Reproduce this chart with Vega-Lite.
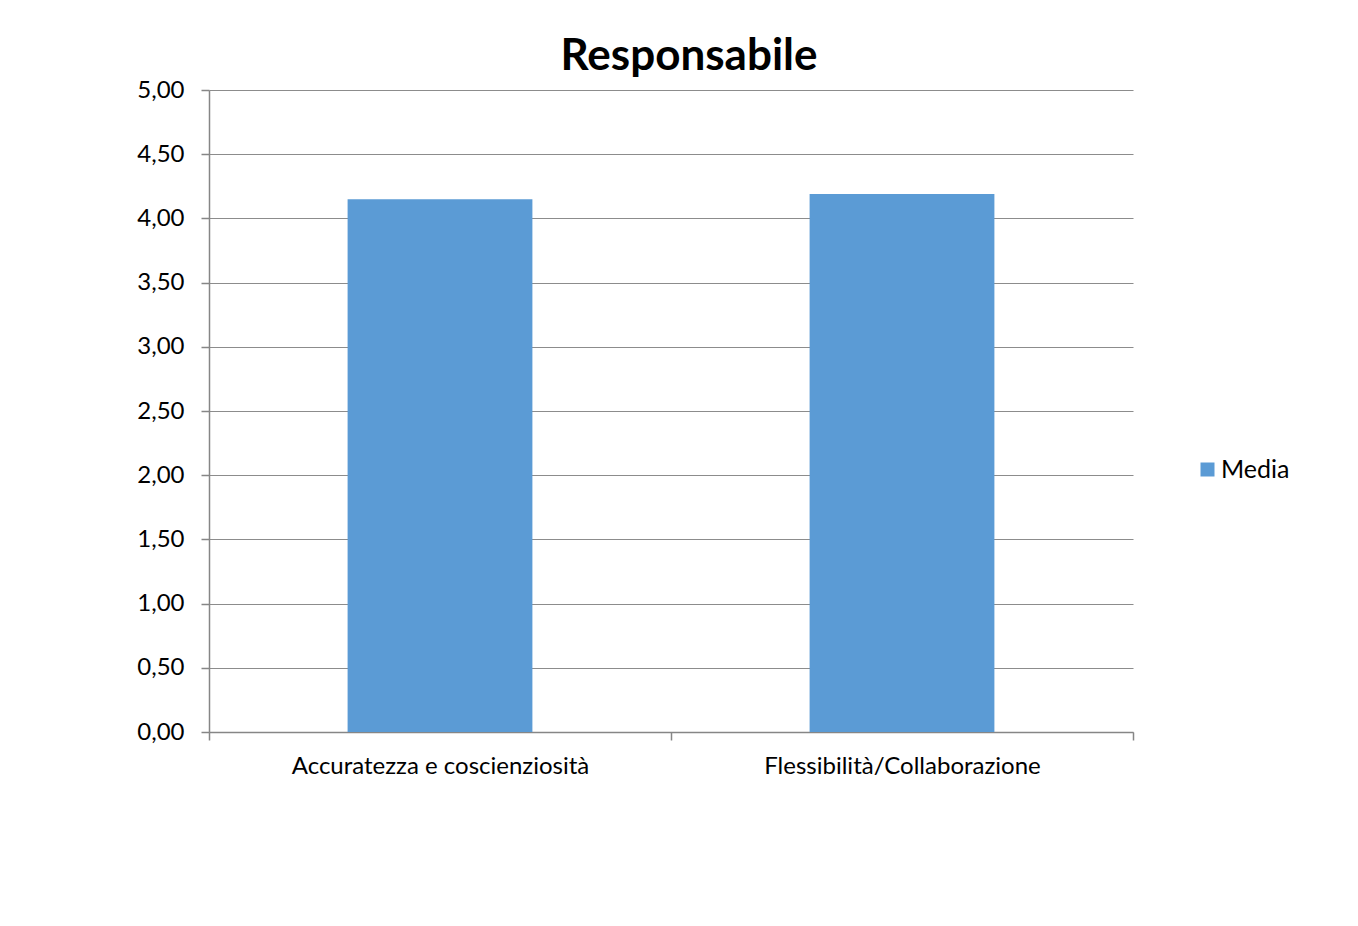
{
  "$schema": "https://vega.github.io/schema/vega-lite/v6.json",
  "autosize": {"type": "none"},
  "width": 924,
  "height": 642,
  "padding": {"left": 209, "top": 90, "right": 225, "bottom": 194},
  "background": "white",
  "title": {
    "text": "Responsabile",
    "font": "Lato",
    "fontSize": 44,
    "fontWeight": "bold",
    "color": "#000000",
    "anchor": "middle",
    "dx": 18,
    "dy": 59,
    "baseline": "alphabetic",
    "offset": 23
  },
  "data": {
    "values": [
      {"categoria": "Accuratezza e coscienziosità", "serie": "Media", "valore": 4.15},
      {"categoria": "Flessibilità/Collaborazione", "serie": "Media", "valore": 4.19}
    ]
  },
  "mark": {"type": "bar", "width": {"band": 0.4}},
  "encoding": {
    "x": {
      "field": "categoria",
      "type": "nominal",
      "sort": null,
      "title": null,
      "scale": {"paddingInner": 0, "paddingOuter": 0},
      "axis": {
        "labelAngle": 0,
        "labelFont": "Lato",
        "labelFontSize": 24,
        "labelColor": "#000000",
        "labelPadding": 14,
        "labelLimit": 0,
        "tickBand": "extent",
        "tickSize": 8,
        "tickColor": "#868686",
        "domainColor": "#868686",
        "domainWidth": 1.5,
        "tickWidth": 1.5,
        "grid": false
      }
    },
    "y": {
      "field": "valore",
      "type": "quantitative",
      "title": null,
      "scale": {"domain": [0, 5], "nice": false, "zero": true},
      "axis": {
        "values": [0, 0.5, 1, 1.5, 2, 2.5, 3, 3.5, 4, 4.5, 5],
        "labelExpr": "replace(format(datum.value, '.2f'), '.', ',')",
        "labelFont": "Lato",
        "labelFontSize": 24,
        "labelColor": "#000000",
        "labelPadding": 17,
        "tickSize": 8,
        "tickColor": "#868686",
        "domainColor": "#868686",
        "domainWidth": 1.5,
        "tickWidth": 1.5,
        "grid": true,
        "gridColor": "#8c8c8c",
        "gridWidth": 1.2
      }
    },
    "color": {
      "field": "serie",
      "type": "nominal",
      "scale": {"range": ["#5B9BD5"]},
      "legend": {
        "title": null,
        "orient": "none",
        "legendX": 986,
        "legendY": 367,
        "symbolType": "square",
        "symbolSize": 196,
        "symbolStrokeWidth": 0,
        "labelFont": "Lato",
        "labelFontSize": 25,
        "labelColor": "#000000",
        "labelOffset": 1
      }
    }
  },
  "config": {"view": {"stroke": null}}
}
